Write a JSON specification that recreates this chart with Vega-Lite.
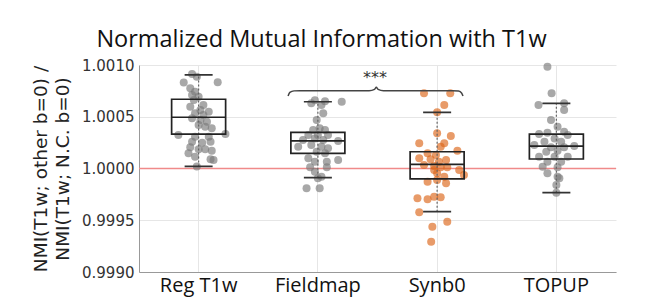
{
  "$schema": "https://vega.github.io/schema/vega-lite/v6.json",
  "autosize": {"type": "none"},
  "width": 477,
  "height": 207,
  "padding": {"left": 139, "top": 65, "right": 42, "bottom": 27},
  "background": "white",
  "title": {"text": "Normalized Mutual Information with T1w", "font": "Open Sans", "fontSize": 23.5, "fontWeight": "normal", "color": "#111", "anchor": "middle", "dx": -56, "offset": 7},
  "config": {
    "view": {"stroke": null},
    "axis": {"gridColor": "#e6e6e6", "domainColor": "#aaaaaa", "ticks": false}
  },
  "datasets": {
    "pts": [
      {"g": "Reg T1w", "v": 1.000913, "j": -0.11},
      {"g": "Reg T1w", "v": 1.000887, "j": -0.03},
      {"g": "Reg T1w", "v": 1.000833, "j": 0.32},
      {"g": "Reg T1w", "v": 1.00083, "j": -0.25},
      {"g": "Reg T1w", "v": 1.000775, "j": -0.14},
      {"g": "Reg T1w", "v": 1.000742, "j": -0.06},
      {"g": "Reg T1w", "v": 1.00071, "j": -0.11},
      {"g": "Reg T1w", "v": 1.000694, "j": 0.0},
      {"g": "Reg T1w", "v": 1.000662, "j": -0.08},
      {"g": "Reg T1w", "v": 1.000614, "j": 0.08},
      {"g": "Reg T1w", "v": 1.000597, "j": -0.14},
      {"g": "Reg T1w", "v": 1.000565, "j": 0.03},
      {"g": "Reg T1w", "v": 1.000549, "j": 0.17},
      {"g": "Reg T1w", "v": 1.000533, "j": -0.06},
      {"g": "Reg T1w", "v": 1.000517, "j": 0.08},
      {"g": "Reg T1w", "v": 1.000485, "j": -0.11},
      {"g": "Reg T1w", "v": 1.000469, "j": 0.03},
      {"g": "Reg T1w", "v": 1.000452, "j": 0.14},
      {"g": "Reg T1w", "v": 1.00042, "j": 0.0},
      {"g": "Reg T1w", "v": 1.000404, "j": 0.11},
      {"g": "Reg T1w", "v": 1.000388, "j": 0.22},
      {"g": "Reg T1w", "v": 1.000333, "j": 0.45},
      {"g": "Reg T1w", "v": 1.000324, "j": -0.34},
      {"g": "Reg T1w", "v": 1.000307, "j": -0.06},
      {"g": "Reg T1w", "v": 1.000307, "j": 0.17},
      {"g": "Reg T1w", "v": 1.000259, "j": -0.11},
      {"g": "Reg T1w", "v": 1.00025, "j": 0.06},
      {"g": "Reg T1w", "v": 1.000259, "j": 0.2},
      {"g": "Reg T1w", "v": 1.000205, "j": -0.14},
      {"g": "Reg T1w", "v": 1.000185, "j": 0.0},
      {"g": "Reg T1w", "v": 1.000185, "j": 0.11},
      {"g": "Reg T1w", "v": 1.000147, "j": -0.17},
      {"g": "Reg T1w", "v": 1.000172, "j": 0.22},
      {"g": "Reg T1w", "v": 1.000114, "j": -0.06},
      {"g": "Reg T1w", "v": 1.000089, "j": 0.2},
      {"g": "Reg T1w", "v": 1.000082, "j": 0.25},
      {"g": "Reg T1w", "v": 1.00002, "j": -0.03},

      {"g": "Fieldmap", "v": 1.00066, "j": -0.05},
      {"g": "Fieldmap", "v": 1.00065, "j": 0.12},
      {"g": "Fieldmap", "v": 1.000645, "j": 0.4},
      {"g": "Fieldmap", "v": 1.00063, "j": -0.11},
      {"g": "Fieldmap", "v": 1.000614, "j": 0.06},
      {"g": "Fieldmap", "v": 1.000533, "j": 0.09},
      {"g": "Fieldmap", "v": 1.000469, "j": -0.02},
      {"g": "Fieldmap", "v": 1.000388, "j": 0.03},
      {"g": "Fieldmap", "v": 1.000372, "j": -0.08},
      {"g": "Fieldmap", "v": 1.000372, "j": 0.12},
      {"g": "Fieldmap", "v": 1.000324, "j": -0.16},
      {"g": "Fieldmap", "v": 1.000324, "j": 0.0},
      {"g": "Fieldmap", "v": 1.000324, "j": 0.17},
      {"g": "Fieldmap", "v": 1.000275, "j": -0.25},
      {"g": "Fieldmap", "v": 1.000291, "j": -0.05},
      {"g": "Fieldmap", "v": 1.000275, "j": 0.09},
      {"g": "Fieldmap", "v": 1.000266, "j": 0.34},
      {"g": "Fieldmap", "v": 1.000211, "j": -0.33},
      {"g": "Fieldmap", "v": 1.000227, "j": -0.11},
      {"g": "Fieldmap", "v": 1.000211, "j": 0.06},
      {"g": "Fieldmap", "v": 1.000195, "j": 0.17},
      {"g": "Fieldmap", "v": 1.000163, "j": -0.02},
      {"g": "Fieldmap", "v": 1.000147, "j": 0.12},
      {"g": "Fieldmap", "v": 1.000098, "j": -0.16},
      {"g": "Fieldmap", "v": 1.000082, "j": 0.34},
      {"g": "Fieldmap", "v": 1.000066, "j": -0.05},
      {"g": "Fieldmap", "v": 1.000066, "j": 0.15},
      {"g": "Fieldmap", "v": 1.000011, "j": -0.13},
      {"g": "Fieldmap", "v": 1.000011, "j": 0.15},
      {"g": "Fieldmap", "v": 0.999969, "j": -0.05},
      {"g": "Fieldmap", "v": 0.999921, "j": 0.06},
      {"g": "Fieldmap", "v": 0.999905, "j": 0.0},
      {"g": "Fieldmap", "v": 0.999809, "j": -0.19},
      {"g": "Fieldmap", "v": 0.999809, "j": 0.03},

      {"g": "Synb0", "v": 1.000726, "j": -0.22},
      {"g": "Synb0", "v": 1.000726, "j": 0.22},
      {"g": "Synb0", "v": 1.000614, "j": 0.12},
      {"g": "Synb0", "v": 1.000543, "j": 0.0},
      {"g": "Synb0", "v": 1.00034, "j": 0.0},
      {"g": "Synb0", "v": 1.000314, "j": 0.23},
      {"g": "Synb0", "v": 1.000243, "j": -0.3},
      {"g": "Synb0", "v": 1.000243, "j": 0.12},
      {"g": "Synb0", "v": 1.000211, "j": 0.06},
      {"g": "Synb0", "v": 1.000172, "j": 0.34},
      {"g": "Synb0", "v": 1.000147, "j": -0.16},
      {"g": "Synb0", "v": 1.00013, "j": -0.02},
      {"g": "Synb0", "v": 1.000098, "j": -0.3},
      {"g": "Synb0", "v": 1.000089, "j": -0.11},
      {"g": "Synb0", "v": 1.000082, "j": 0.15},
      {"g": "Synb0", "v": 1.000066, "j": 0.03},
      {"g": "Synb0", "v": 1.000034, "j": -0.22},
      {"g": "Synb0", "v": 1.000024, "j": -0.05},
      {"g": "Synb0", "v": 1.000011, "j": 0.06},
      {"g": "Synb0", "v": 1.000011, "j": 0.17},
      {"g": "Synb0", "v": 0.999985, "j": 0.37},
      {"g": "Synb0", "v": 0.999985, "j": -0.05},
      {"g": "Synb0", "v": 0.999953, "j": 0.0},
      {"g": "Synb0", "v": 0.999937, "j": 0.45},
      {"g": "Synb0", "v": 0.999921, "j": 0.12},
      {"g": "Synb0", "v": 0.999889, "j": 0.0},
      {"g": "Synb0", "v": 0.999872, "j": -0.16},
      {"g": "Synb0", "v": 0.999857, "j": 0.15},
      {"g": "Synb0", "v": 0.999728, "j": -0.05},
      {"g": "Synb0", "v": 0.999722, "j": 0.06},
      {"g": "Synb0", "v": 0.999712, "j": -0.33},
      {"g": "Synb0", "v": 0.999702, "j": -0.16},
      {"g": "Synb0", "v": 0.999577, "j": -0.3},
      {"g": "Synb0", "v": 0.999486, "j": 0.17},
      {"g": "Synb0", "v": 0.999438, "j": -0.08},
      {"g": "Synb0", "v": 0.999293, "j": -0.1},

      {"g": "TOPUP", "v": 1.000984, "j": -0.15},
      {"g": "TOPUP", "v": 1.000726, "j": -0.08},
      {"g": "TOPUP", "v": 1.000614, "j": -0.3},
      {"g": "TOPUP", "v": 1.00063, "j": 0.13},
      {"g": "TOPUP", "v": 1.000565, "j": 0.13},
      {"g": "TOPUP", "v": 1.000469, "j": -0.09},
      {"g": "TOPUP", "v": 1.000404, "j": 0.02},
      {"g": "TOPUP", "v": 1.000333, "j": -0.29},
      {"g": "TOPUP", "v": 1.000346, "j": -0.15},
      {"g": "TOPUP", "v": 1.000356, "j": 0.13},
      {"g": "TOPUP", "v": 1.000324, "j": 0.19},
      {"g": "TOPUP", "v": 1.000291, "j": -0.03},
      {"g": "TOPUP", "v": 1.000259, "j": -0.2},
      {"g": "TOPUP", "v": 1.000259, "j": 0.08},
      {"g": "TOPUP", "v": 1.000227, "j": -0.37},
      {"g": "TOPUP", "v": 1.000205, "j": -0.09},
      {"g": "TOPUP", "v": 1.000205, "j": 0.13},
      {"g": "TOPUP", "v": 1.000217, "j": 0.3},
      {"g": "TOPUP", "v": 1.000163, "j": -0.17},
      {"g": "TOPUP", "v": 1.000172, "j": 0.02},
      {"g": "TOPUP", "v": 1.000114, "j": -0.29},
      {"g": "TOPUP", "v": 1.000114, "j": -0.03},
      {"g": "TOPUP", "v": 1.000114, "j": 0.19},
      {"g": "TOPUP", "v": 1.000066, "j": -0.15},
      {"g": "TOPUP", "v": 1.000066, "j": 0.08},
      {"g": "TOPUP", "v": 1.000017, "j": -0.23},
      {"g": "TOPUP", "v": 1.000011, "j": 0.02},
      {"g": "TOPUP", "v": 0.999953, "j": -0.15},
      {"g": "TOPUP", "v": 0.999921, "j": 0.02},
      {"g": "TOPUP", "v": 0.999905, "j": 0.05},
      {"g": "TOPUP", "v": 0.99984, "j": 0.0},
      {"g": "TOPUP", "v": 0.999766, "j": 0.0}
    ],
    "boxes": [
      {"g": "Reg T1w", "lower": 1.00002, "q1": 1.000333, "median": 1.000495, "q3": 1.000669, "upper": 1.000905},
      {"g": "Fieldmap", "lower": 0.999911, "q1": 1.000147, "median": 1.000266, "q3": 1.00035, "upper": 1.000645},
      {"g": "Synb0", "lower": 0.999583, "q1": 0.999899, "median": 1.00004, "q3": 1.000162, "upper": 1.000543},
      {"g": "TOPUP", "lower": 0.999766, "q1": 1.000092, "median": 1.000217, "q3": 1.000333, "upper": 1.00063}
    ],
    "brace": [
      {"x": 1.25, "y": 1.0007},
      {"x": 1.265, "y": 1.000735},
      {"x": 1.3, "y": 1.00075},
      {"x": 1.35, "y": 1.000752},
      {"x": 1.93, "y": 1.000752},
      {"x": 1.975, "y": 1.000765},
      {"x": 1.99, "y": 1.000785},
      {"x": 2.005, "y": 1.000765},
      {"x": 2.05, "y": 1.000752},
      {"x": 2.63, "y": 1.000752},
      {"x": 2.68, "y": 1.000748},
      {"x": 2.705, "y": 1.00073},
      {"x": 2.717, "y": 1.0007}
    ],
    "sig": [{"x": 1.98, "y": 1.00087, "label": "***"}],
    "ref": [{"y": 1.0}]
  },
  "layer": [
    {
      "data": {"name": "ref"},
      "mark": {"type": "rule", "color": "#f08a8a", "strokeWidth": 1.5},
      "encoding": {
        "y": {"field": "y", "type": "quantitative", "scale": {"domain": [0.999, 1.001], "nice": false, "zero": false},
          "axis": {"values": [0.999, 0.9995, 1.0, 1.0005, 1.001], "format": ".4f", "labelFont": "DejaVu Sans", "labelFontSize": 15, "labelColor": "#333", "labelPadding": 5, "domainColor": "#999",
            "title": ["NMI(T1w; other b=0) /", "NMI(T1w; N.C. b=0)"], "titleFont": "DejaVu Sans", "titleFontSize": 18.5, "titleFontWeight": "normal", "titleColor": "#222", "titleLineHeight": 22, "titlePadding": 9}}
      }
    },
    {
      "data": {"name": "pts"},
      "mark": {"type": "circle", "size": 64, "opacity": 0.65},
      "encoding": {
        "x": {"field": "g", "type": "nominal", "sort": ["Reg T1w", "Fieldmap", "Synb0", "TOPUP"], "scale": {"paddingInner": 0, "paddingOuter": 0},
          "axis": {"title": null, "labelAngle": 0, "labelFont": "Open Sans", "labelFontSize": 20, "labelColor": "#111", "labelPadding": 3, "grid": true, "bandPosition": 0.5, "domainColor": "#999"}},
        "xOffset": {"field": "j", "type": "quantitative", "scale": {"domain": [-1, 1]}},
        "y": {"field": "v", "type": "quantitative"},
        "color": {"field": "g", "type": "nominal", "scale": {"domain": ["Reg T1w", "Fieldmap", "Synb0", "TOPUP"], "range": ["#7a7a7a", "#7a7a7a", "#dc6519", "#7a7a7a"]}, "legend": null}
      }
    },
    {
      "encoding": {
        "x": {"field": "g", "type": "nominal", "sort": ["Reg T1w", "Fieldmap", "Synb0", "TOPUP"], "scale": {"paddingInner": 0, "paddingOuter": 0}, "axis": null}
      },
      "layer": [
        {
          "data": {"name": "boxes"},
          "mark": {"type": "rule", "color": "#666", "strokeWidth": 1.2, "strokeDash": [2, 2]},
          "encoding": {
            "y": {"field": "lower", "type": "quantitative"},
            "y2": {"field": "upper"}
          }
        },
        {
          "data": {"name": "boxes"},
          "mark": {"type": "bar", "fill": null, "fillOpacity": 0, "stroke": "#222", "strokeWidth": 1.7, "width": 54},
          "encoding": {
            "y": {"field": "q1", "type": "quantitative"},
            "y2": {"field": "q3"}
          }
        },
        {
          "data": {"name": "boxes"},
          "mark": {"type": "bar", "fill": null, "fillOpacity": 0, "stroke": "#222", "strokeWidth": 1.7, "width": 54},
          "encoding": {
            "y": {"field": "median", "type": "quantitative"},
            "y2": {"field": "median"}
          }
        },
        {
          "data": {"name": "boxes"},
          "mark": {"type": "bar", "fill": null, "fillOpacity": 0, "stroke": "#333", "strokeWidth": 1.7, "width": 28},
          "encoding": {
            "y": {"field": "lower", "type": "quantitative"},
            "y2": {"field": "lower"}
          }
        },
        {
          "data": {"name": "boxes"},
          "mark": {"type": "bar", "fill": null, "fillOpacity": 0, "stroke": "#333", "strokeWidth": 1.7, "width": 28},
          "encoding": {
            "y": {"field": "upper", "type": "quantitative"},
            "y2": {"field": "upper"}
          }
        }
      ]
    },
    {
      "encoding": {
        "x": {"field": "x", "type": "quantitative", "scale": {"domain": [0, 4], "nice": false, "zero": false}, "axis": null},
        "y": {"field": "y", "type": "quantitative"}
      },
      "layer": [
        {
          "data": {"name": "brace"},
          "mark": {"type": "line", "color": "#444", "strokeWidth": 1.5, "interpolate": "monotone"}
        },
        {
          "data": {"name": "sig"},
          "mark": {"type": "text", "font": "DejaVu Sans", "fontSize": 16, "color": "#333", "baseline": "middle", "align": "center"},
          "encoding": {
            "text": {"field": "label"}
          }
        }
      ]
    }
  ],
  "resolve": {"scale": {"x": "independent"}, "axis": {"x": "independent"}}
}
